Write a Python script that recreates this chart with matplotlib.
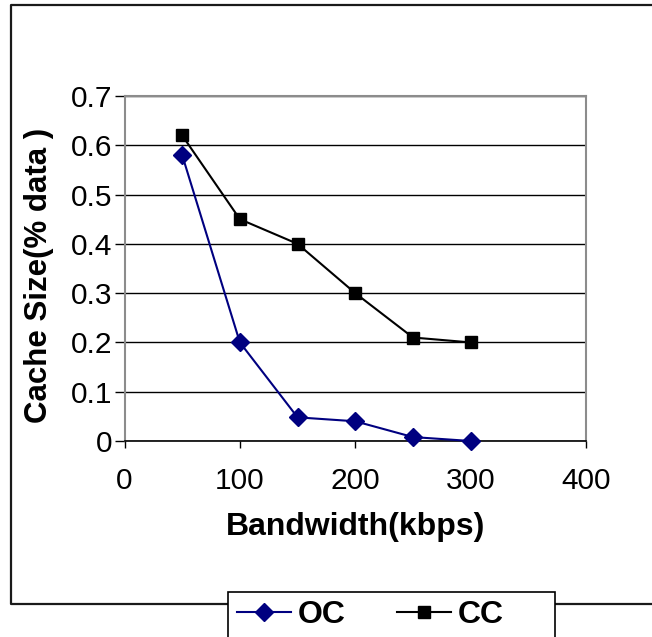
import matplotlib
matplotlib.use("Agg")
import matplotlib.pyplot as plt
from matplotlib.lines import Line2D
from matplotlib.patches import Rectangle

plt.rcParams['font.family'] = ['Liberation Sans', 'DejaVu Sans']

bandwidth = [50, 100, 150, 200, 250, 300]
oc_values = [0.58, 0.20, 0.048, 0.04, 0.008, 0.0]
cc_values = [0.62, 0.45, 0.40, 0.30, 0.21, 0.20]
x_ticks = [0, 100, 200, 300, 400]
y_ticks = [0, 0.1, 0.2, 0.3, 0.4, 0.5, 0.6, 0.7]
y_ticklabels = ['0', '0.1', '0.2', '0.3', '0.4', '0.5', '0.6', '0.7']

W, H = 652, 637
fig = plt.figure(figsize=(W / 100, H / 100), dpi=100)

def fx(px):
    return px / W

def fy(py):
    return 1 - py / H

# outer chart border (right edge runs off the canvas)
border = Line2D([fx(700), fx(11), fx(11), fx(700)],
                [fy(5), fy(5), fy(604), fy(604)],
                transform=fig.transFigure, color='#1a1a1a', lw=1.6)
fig.add_artist(border)

left, right, top, bottom = 124.5, 586, 96, 441
ax = fig.add_axes([fx(left), fy(bottom), fx(right - left), (bottom - top) / H])

ax.plot(bandwidth, oc_values, color='#000080', lw=1.5, marker='D',
        markersize=9.5, label='OC', clip_on=False, zorder=3)
ax.plot(bandwidth, cc_values, color='black', lw=1.5, marker='s',
        markersize=9, label='CC', clip_on=False, zorder=3)

ax.set_xlim(0, 400)
ax.set_ylim(0, 0.7)
ax.set_xticks(x_ticks)
ax.set_xticklabels([str(t) for t in x_ticks], fontsize=21.5)
ax.set_yticks(y_ticks)
ax.set_yticklabels(y_ticklabels, fontsize=21.5)
ax.tick_params(axis='both', direction='out', width=1, color='black')
ax.tick_params(axis='x', length=5, pad=14)
ax.tick_params(axis='y', length=7.5, pad=1.5)

ax.grid(axis='y', color='black', lw=1)
ax.set_axisbelow(True)
for side in ('top', 'right', 'left'):
    ax.spines[side].set_color('#8c8c8c')
    ax.spines[side].set_linewidth(1.5)
ax.spines['bottom'].set_color('black')
ax.spines['bottom'].set_linewidth(1.2)

ax.set_xlabel('Bandwidth(kbps)', fontsize=23, fontweight='bold', labelpad=12)
ax.set_ylabel('Cache Size(% data )', fontsize=22.5, fontweight='bold', labelpad=12)
ax.yaxis.label.set_y(0.48)

# legend box straddling the bottom border
fig.add_artist(Rectangle((fx(228), fy(660)), fx(555) - fx(228), fy(592) - fy(660),
                         transform=fig.transFigure, facecolor='white',
                         edgecolor='black', lw=1.2, zorder=5))
leg = fig.legend(loc='center left', bbox_to_anchor=(fx(237), fy(615)),
                 ncol=2, frameon=False, handlelength=1.7, handletextpad=0.2,
                 columnspacing=1.6, borderaxespad=0, borderpad=0,
                 prop={'size': 23, 'weight': 'bold'})
leg.set_zorder(6)

fig.savefig('out.png', dpi=100)
